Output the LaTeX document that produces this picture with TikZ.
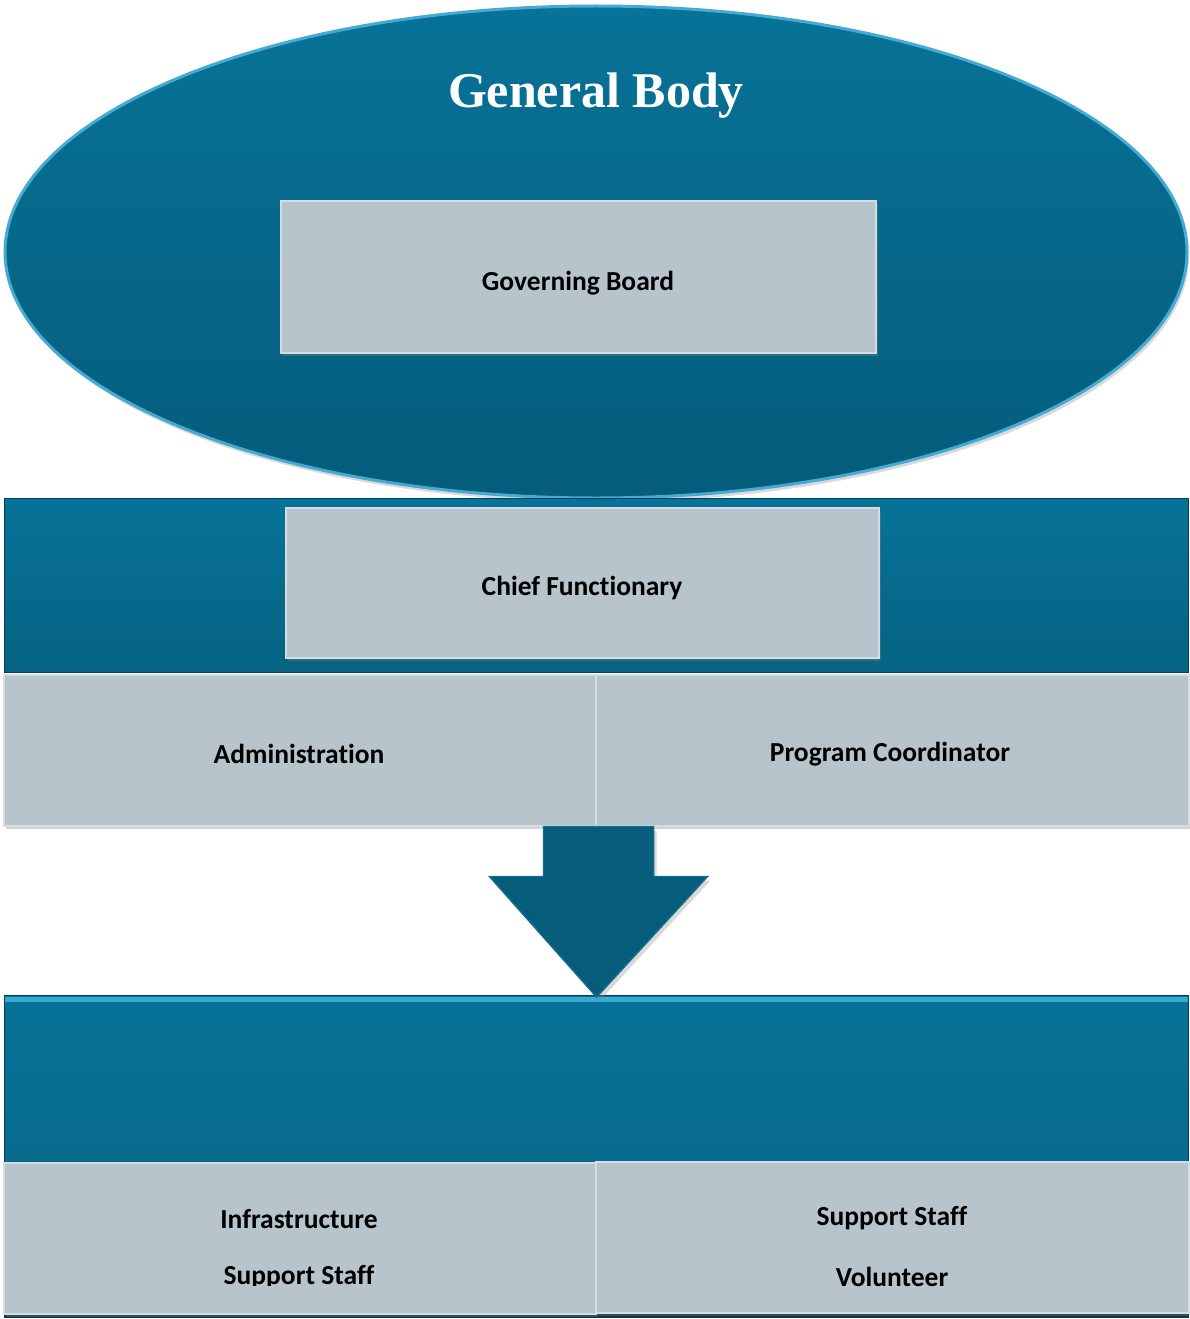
\documentclass[tikz,border=0pt]{standalone}
\usepackage{fontspec}
\setmainfont{Carlito}[Ligatures=NoCommon]
\newfontfamily\titlefont{Liberation Serif}
\usetikzlibrary{shapes.geometric,shadows,calc}
\definecolor{teal1}{RGB}{7,115,152}
\definecolor{teal2}{RGB}{5,92,123}
\definecolor{tealrim}{RGB}{70,170,210}
\definecolor{cyanedge}{RGB}{55,170,212}
\definecolor{boxgrey}{RGB}{184,196,204}
\definecolor{boxedge}{RGB}{214,221,226}
\begin{document}
\begin{tikzpicture}[x=1pt,y=-1pt,
  lbl/.style={font=\fontsize{27.5}{33}\selectfont\bfseries, text=black, inner sep=0pt},
  greybox/.style={rectangle, anchor=north west, fill=boxgrey, draw=boxedge, line width=1.5pt,
     inner sep=0pt, drop shadow={shadow xshift=2pt,shadow yshift=-3pt,opacity=0.35}},
  tealband/.style={rectangle, anchor=north west, inner sep=0pt, top color=teal1, bottom color=teal1!86!black,
     draw=teal2!70!black, line width=1.2pt},
]
\useasboundingbox (0,0) rectangle (1189,1319);

% General Body ellipse
\node[ellipse, minimum width=1182pt, minimum height=492pt, top color=teal1, bottom color=teal2,
      draw=tealrim, line width=3pt, drop shadow={shadow xshift=2pt,shadow yshift=-4pt,opacity=0.3}] (gbody) at (596,252) {};
\node[font=\titlefont\fontsize{50}{60}\selectfont\bfseries, text=white, inner sep=0pt] (gbodylbl) at (596,96) {General Body};

% Governing Board
\node[greybox, minimum width=595pt, minimum height=152pt] (govbox) at (280,200) {};
\node[lbl] (govlbl) at (578,283) {Governing Board};

% Upper teal band
\node[tealband, minimum width=1184pt, minimum height=174pt] (band1) at (4,498) {};
\node[greybox, minimum width=593pt, minimum height=150pt] (chiefbox) at (285,507) {};
\node[lbl] (chieflbl) at (582,588) {Chief Functionary};

\node[greybox, minimum width=592pt, minimum height=151pt] (admbox) at (3,674) {};
\node[greybox, minimum width=593pt, minimum height=151pt] (pcbox) at (595,674) {};
\node[lbl] (admlbl) at (299,754) {Administration};
\node[lbl] (pclbl) at (890,754) {Program Coordinator};

% Lower teal band
\node[tealband, minimum width=1184pt, minimum height=322pt] (band2) at (4,995) {};
\draw[cyanedge, line width=5pt] ($(band2.north west)+(1,4)$) -- ($(band2.north east)+(-1,4)$);
\draw[teal2!60!black, line width=4pt] ($(band2.south west)+(0,-2)$) -- ($(band2.south east)+(0,-2)$);

% Block arrow
\coordinate (atop) at (admbox.south east);
\coordinate (atip) at ($(band2.north west)!0.5!(band2.north east)+(0,2)$);
\fill[teal2, draw=teal2!80!tealrim, line width=1.5pt, drop shadow={shadow xshift=3pt,shadow yshift=-4pt,opacity=0.3}]
  ($(atop)+(-53,0)$) -- ($(atop)+(-53,50)$) -- ($(atop)+(-107,50)$) -- (atip)
  -- ($(atop)+(111,50)$) -- ($(atop)+(57,50)$) -- ($(atop)+(57,0)$) -- cycle;

\node[greybox, minimum width=592pt, minimum height=151pt] (infbox) at (3,1162) {};
\node[greybox, minimum width=593pt, minimum height=151pt] (ssbox) at (595,1161) {};
\node[lbl] (inflbl) at (299,1219) {Infrastructure};
\begin{scope}
  \clip (3,1150) rectangle (595,1285);
  \node[lbl] (supplbl) at (299,1277) {Support Staff};
\end{scope}
\node[lbl] (ss2lbl) at (892,1218) {Support Staff};
\node[lbl] (vollbl) at (892,1277) {Volunteer};
\end{tikzpicture}
\end{document}
